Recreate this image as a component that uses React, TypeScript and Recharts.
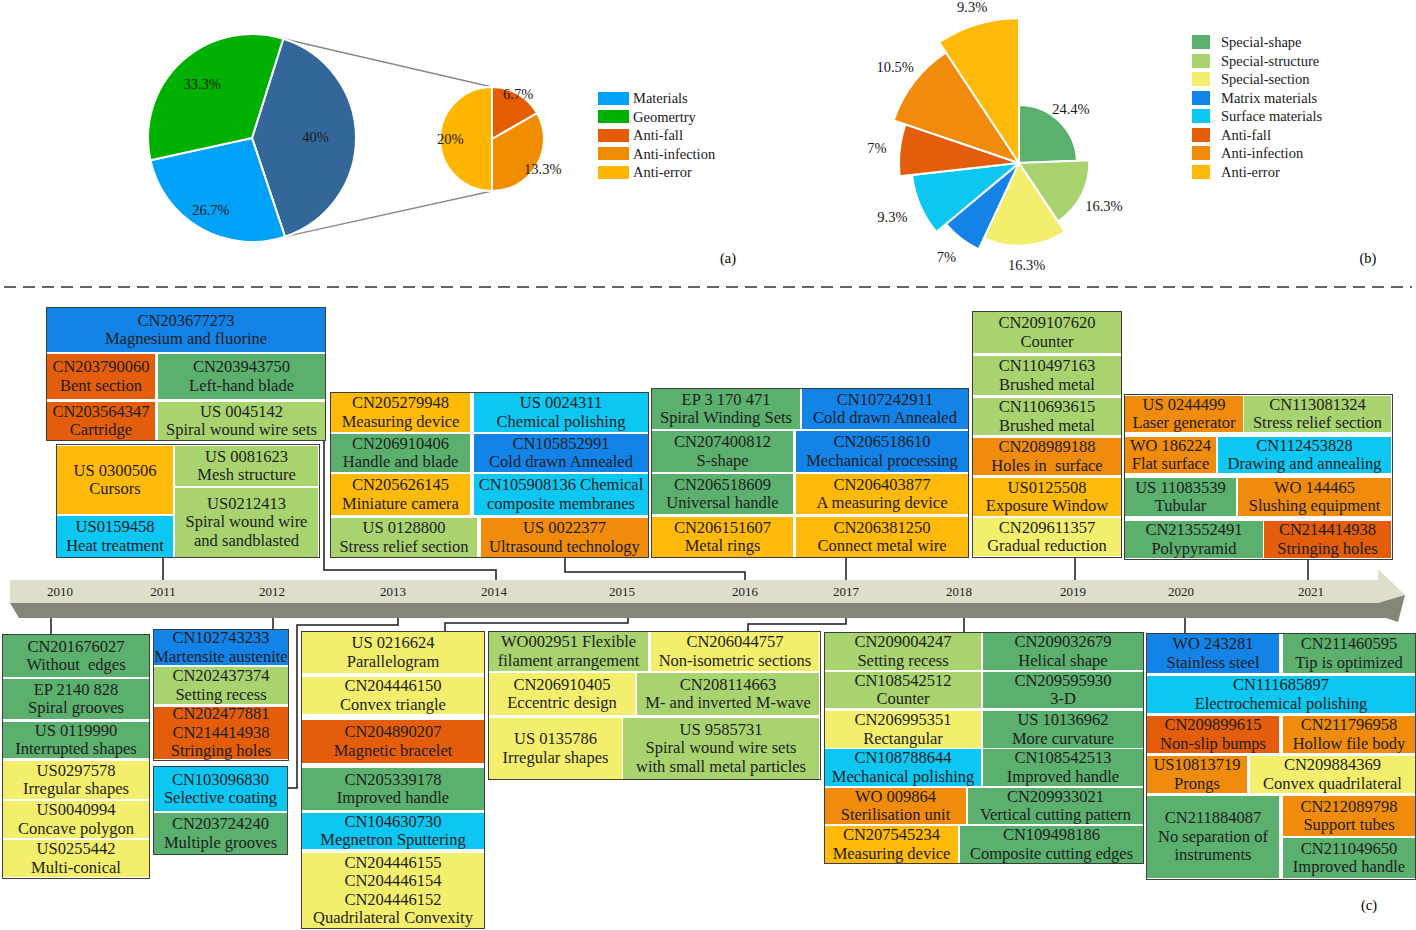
import React from "react";
import { PieChart, Pie, Cell } from "recharts";

const FONT = '"Liberation Serif", "Times New Roman", serif';
const RAD = Math.PI / 180;

// (a) patents by technology group, the 40% group split out on the right
const MAIN_NAMES = ["Anti", "Materials", "Geometry"];
const MAIN_VALUES = [40, 26.7, 33.3];
const SUB_NAMES = ["Anti-fall", "Anti-infection", "Anti-error"];
const SUB_VALUES = [6.7, 13.3, 20];
const LEGEND_A = ["Materials", "Geomertry", "Anti-fall", "Anti-infection", "Anti-error"];

// (b) patents by sub-category
const ROSE_NAMES = [
  "Special-shape",
  "Special-structure",
  "Special-section",
  "Matrix materials",
  "Surface materials",
  "Anti-fall",
  "Anti-infection",
  "Anti-error",
];
const ROSE_VALUES = [24.4, 16.3, 16.3, 7, 9.3, 7, 10.5, 9.3];

// (c) timeline
const YEARS = [2010, 2011, 2012, 2013, 2014, 2015, 2016, 2017, 2018, 2019, 2020, 2021];

type Entry = { t: string[]; c: string };
const e = (c: string, ...t: string[]): Entry => ({ t, c });

const P2010 = [
  e("shape", "CN201676027", "Without  edges"),
  e("shape", "EP 2140 828", "Spiral grooves"),
  e("shape", "US 0119990", "Interrupted shapes"),
  e("section", "US0297578", "Irregular shapes"),
  e("section", "US0040994", "Concave polygon"),
  e("section", "US0255442", "Multi-conical"),
];
const P2011 = [
  e("error", "US 0300506", "Cursors"),
  e("structure", "US 0081623", "Mesh structure"),
  e("structure", "US0212413", "Spiral wound wire", "and sandblasted"),
  e("surface", "US0159458", "Heat treatment"),
];
const P2012 = [
  e("matrix", "CN102743233", "Martensite austenite"),
  e("structure", "CN202437374", "Setting recess"),
  e("fall", "CN202477881", "CN214414938", "Stringing holes"),
];
const P2013 = [
  e("surface", "CN103096830", "Selective coating"),
  e("shape", "CN203724240", "Multiple grooves"),
];
const P2014 = [
  e("matrix", "CN203677273", "Magnesium and fluorine"),
  e("fall", "CN203790060", "Bent section"),
  e("shape", "CN203943750", "Left-hand blade"),
  e("fall", "CN203564347", "Cartridge"),
  e("structure", "US 0045142", "Spiral wound wire sets"),
];
const P2015 = [
  e("section", "US 0216624", "Parallelogram"),
  e("section", "CN204446150", "Convex triangle"),
  e("fall", "CN204890207", "Magnetic bracelet"),
  e("shape", "CN205339178", "Improved handle"),
  e("surface", "CN104630730", "Megnetron Sputtering"),
  e("section", "CN204446155", "CN204446154", "CN204446152", "Quadrilateral Convexity"),
];
const P2016 = [
  e("error", "CN205279948", "Measuring device"),
  e("surface", "US 0024311", "Chemical polishing"),
  e("shape", "CN206910406", "Handle and blade"),
  e("matrix", "CN105852991", "Cold drawn Annealed"),
  e("error", "CN205626145", "Miniature camera"),
  e("surface", "CN105908136 Chemical", "composite membranes"),
  e("structure", "US 0128800", "Stress relief section"),
  e("infection", "US 0022377", "Ultrasound technology"),
];
const P2017A = [
  e("shape", "EP 3 170 471", "Spiral Winding Sets"),
  e("matrix", "CN107242911", "Cold drawn Annealed"),
  e("shape", "CN207400812", "S-shape"),
  e("matrix", "CN206518610", "Mechanical processing"),
  e("shape", "CN206518609", "Universal handle"),
  e("error", "CN206403877", "A measuring device"),
  e("error", "CN206151607", "Metal rings"),
  e("error", "CN206381250", "Connect metal wire"),
];
const P2017B = [
  e("structure", "WO002951 Flexible", "filament arrangement"),
  e("section", "CN206044757", "Non-isometric sections"),
  e("section", "CN206910405", "Eccentric design"),
  e("structure", "CN208114663", "M- and inverted M-wave"),
  e("section", "US 0135786", "Irregular shapes"),
  e("structure", "US 9585731", "Spiral wound wire sets", "with small metal particles"),
];
const P2018 = [
  e("structure", "CN209004247", "Setting recess"),
  e("shape", "CN209032679", "Helical shape"),
  e("structure", "CN108542512", "Counter"),
  e("shape", "CN209595930", "3-D"),
  e("section", "CN206995351", "Rectangular"),
  e("shape", "US 10136962", "More curvature"),
  e("surface", "CN108788644", "Mechanical polishing"),
  e("shape", "CN108542513", "Improved handle"),
  e("infection", "WO 009864", "Sterilisation unit"),
  e("shape", "CN209933021", "Vertical cutting pattern"),
  e("error", "CN207545234", "Measuring device"),
  e("shape", "CN109498186", "Composite cutting edges"),
];
const P2019 = [
  e("structure", "CN209107620", "Counter"),
  e("structure", "CN110497163", "Brushed metal"),
  e("structure", "CN110693615", "Brushed metal"),
  e("infection", "CN208989188", "Holes in  surface"),
  e("error", "US0125508", "Exposure Window"),
  e("section", "CN209611357", "Gradual reduction"),
];
const P2020 = [
  e("matrix", "WO 243281", "Stainless steel"),
  e("shape", "CN211460595", "Tip is optimized"),
  e("surface", "CN111685897", "Electrochemical polishing"),
  e("fall", "CN209899615", "Non-slip bumps"),
  e("infection", "CN211796958", "Hollow file body"),
  e("infection", "US10813719", "Prongs"),
  e("section", "CN209884369", "Convex quadrilateral"),
  e("shape", "CN211884087", "No separation of", "instruments"),
  e("infection", "CN212089798", "Support tubes"),
  e("shape", "CN211049650", "Improved handle"),
];
const P2021 = [
  e("infection", "US 0244499", "Laser generator"),
  e("structure", "CN113081324", "Stress relief section"),
  e("infection", "WO 186224", "Flat surface"),
  e("surface", "CN112453828", "Drawing and annealing"),
  e("shape", "US 11083539", "Tubular"),
  e("infection", "WO 144465", "Slushing equipment"),
  e("shape", "CN213552491", "Polypyramid"),
  e("fall", "CN214414938", "Stringing holes"),
];

// ---- styles / layout ----
const CAT: Record<string, string> = {
  shape: "#5BB06E",
  structure: "#A9D36F",
  section: "#F3EE6C",
  matrix: "#1383E8",
  surface: "#0CC7F2",
  fall: "#E35D0A",
  infection: "#F08B0C",
  error: "#FEB909",
};
const MAIN_COLORS = ["#336699", "#00A2F8", "#00B000"];
const SUB_COLORS = ["#E65C00", "#F08C00", "#FFB600"];
const LEGEND_A_COLORS = ["#00A2F8", "#00B000", "#E65C00", "#F08C00", "#FFB600"];
const ROSE_COLORS = [
  CAT.shape, CAT.structure, CAT.section, CAT.matrix,
  CAT.surface, CAT.fall, CAT.infection, CAT.error,
];
const MAIN_LABEL_R = [0.61, 0.8, 0.71];
const SUB_LABEL_R = [1.0, 1.13, 0.8];
const ROSE_R0 = 58;
const ROSE_STEP = 12.4;
const ROSE_LABEL_OFF = [17, 25, 19, 24, 30, 23, 24, 18];
const BOX_FONT = 16.5;

const YEAR_X = [60, 163, 272, 393, 494, 622, 745, 846, 959, 1073, 1181, 1311];

type Rect = [number, number, number, number];
const BOXES: { items: Entry[]; outer: Rect; cells: Rect[] }[] = [
  {
    items: P2014,
    outer: [46, 307, 280, 134],
    cells: [[47, 308, 278, 44], [47, 354, 108, 45], [158, 354, 167, 45], [47, 402, 108, 38], [158, 402, 167, 38]],
  },
  {
    items: P2011,
    outer: [56, 444, 264, 114],
    cells: [[57, 446, 116, 68], [175, 446, 143, 40], [175, 488, 143, 69], [57, 516, 116, 41]],
  },
  {
    items: P2016,
    outer: [330, 392, 319, 166],
    cells: [
      [331, 393, 139, 39], [474, 393, 174, 39], [331, 434, 139, 38], [474, 434, 174, 38],
      [331, 474, 139, 41], [474, 474, 174, 41], [331, 518, 146, 39], [481, 518, 167, 39],
    ],
  },
  {
    items: P2017A,
    outer: [651, 388, 318, 170],
    cells: [
      [652, 389, 148, 40], [802, 389, 166, 40], [652, 431, 141, 41], [796, 431, 172, 41],
      [652, 474, 141, 40], [796, 474, 172, 40], [652, 517, 141, 40], [796, 517, 172, 40],
    ],
  },
  {
    items: P2019,
    outer: [972, 311, 150, 247],
    cells: [
      [973, 312, 148, 41], [973, 356, 148, 39], [973, 398, 148, 37],
      [973, 438, 148, 37], [973, 478, 148, 38], [973, 518, 148, 38],
    ],
  },
  {
    items: P2021,
    outer: [1124, 394, 269, 166],
    cells: [
      [1125, 396, 118, 36], [1244, 396, 147, 36], [1125, 437, 91, 36], [1218, 437, 173, 36],
      [1125, 478, 111, 38], [1238, 478, 153, 38], [1125, 521, 138, 37], [1264, 521, 127, 37],
    ],
  },
  {
    items: P2010,
    outer: [2, 634, 148, 245],
    cells: [
      [3, 635, 146, 42], [3, 679, 146, 40], [3, 722, 146, 36],
      [3, 761, 146, 38], [3, 801, 146, 37], [3, 840, 146, 37],
    ],
  },
  {
    items: P2012,
    outer: [153, 629, 136, 132],
    cells: [[154, 630, 134, 35], [154, 667, 134, 37], [154, 707, 134, 52]],
  },
  {
    items: P2013,
    outer: [153, 766, 135, 89],
    cells: [[154, 767, 133, 44], [154, 813, 133, 41]],
  },
  {
    items: P2015,
    outer: [301, 631, 184, 298],
    cells: [
      [302, 632, 182, 41], [302, 677, 182, 37], [302, 720, 182, 43],
      [302, 768, 182, 42], [302, 813, 182, 36], [302, 853, 182, 75],
    ],
  },
  {
    items: P2017B,
    outer: [488, 631, 333, 149],
    cells: [
      [489, 632, 159, 39], [651, 632, 168, 39], [489, 673, 146, 42],
      [637, 673, 182, 42], [489, 718, 133, 61], [623, 718, 196, 61],
    ],
  },
  {
    items: P2018,
    outer: [824, 632, 320, 232],
    cells: [
      [825, 633, 156, 37], [983, 633, 160, 37], [825, 672, 156, 36], [983, 672, 160, 36],
      [825, 711, 156, 37], [983, 711, 160, 37], [825, 749, 156, 37], [983, 749, 160, 37],
      [825, 788, 141, 36], [968, 788, 175, 36], [825, 826, 133, 37], [960, 826, 183, 37],
    ],
  },
  {
    items: P2020,
    outer: [1146, 633, 270, 247],
    cells: [
      [1147, 634, 132, 39], [1283, 634, 132, 39], [1147, 676, 268, 37],
      [1147, 716, 132, 37], [1283, 716, 132, 37], [1147, 756, 100, 37], [1250, 756, 165, 37],
      [1147, 796, 132, 82], [1283, 796, 132, 40], [1283, 838, 132, 40],
    ],
  },
];

const CONNECTORS: number[][][] = [
  [[163, 558], [163, 580]],
  [[324, 441], [324, 570], [496, 570], [496, 580]],
  [[565, 558], [565, 572], [745, 572], [745, 580]],
  [[846, 558], [846, 580]],
  [[1075, 557], [1075, 580]],
  [[1308, 560], [1308, 580]],
  [[51, 618], [51, 634]],
  [[273, 618], [273, 629]],
  [[398, 618], [398, 625], [297, 625], [297, 788], [288, 788]],
  [[628, 618], [628, 623], [445, 623], [445, 631]],
  [[846, 618], [846, 624], [748, 624], [748, 631]],
  [[964, 618], [964, 632]],
  [[1185, 618], [1185, 633]],
];

const mainData = MAIN_NAMES.map((name, i) => ({ name, value: MAIN_VALUES[i] }));
const subData = SUB_NAMES.map((name, i) => ({ name, value: SUB_VALUES[i] }));
const roseData = ROSE_NAMES.map((name, i) => ({ name, value: ROSE_VALUES[i] }));

const MAIN_CX = 252, MAIN_CY = 138, MAIN_R = 104, MAIN_START = 72.5;
const SUB_CX = 492, SUB_CY = 139, SUB_R = 52;

const labelText = (x: number, y: number, v: number) => (
  <text x={x} y={y} textAnchor="middle" dominantBaseline="central" fontSize={14.5} fill="#1a1a1a" fontFamily={FONT}>
    {v}%
  </text>
);

const polarLabel = (factors: number[]) => (p: any) => {
  const r = p.outerRadius * factors[p.index];
  return labelText(p.cx + r * Math.cos(-p.midAngle * RAD), p.cy + r * Math.sin(-p.midAngle * RAD), p.value);
};

function Legend({ names, colors, x, y, step, bw, bh, tx }: any) {
  return (
    <>
      {names.map((n: string, i: number) => (
        <React.Fragment key={n}>
          <div style={{ position: "absolute", left: x, top: y + i * step - bh / 2, width: bw, height: bh, background: colors[i] }} />
          <div style={{ position: "absolute", left: tx, top: y + i * step - 10, height: 20, lineHeight: "20px", fontSize: 14.5, color: "#1a1a1a", whiteSpace: "nowrap" }}>
            {n}
          </div>
        </React.Fragment>
      ))}
    </>
  );
}

function PatentBox({ items, outer, cells }: { items: Entry[]; outer: Rect; cells: Rect[] }) {
  return (
    <>
      <div style={{ position: "absolute", left: outer[0], top: outer[1], width: outer[2], height: outer[3], background: "#fff" }} />
      {cells.map((r, i) => (
        <div
          key={i}
          style={{
            position: "absolute", left: r[0], top: r[1], width: r[2], height: r[3],
            background: CAT[items[i].c], display: "flex", flexDirection: "column",
            justifyContent: "center", alignItems: "center", fontSize: BOX_FONT, lineHeight: "18.5px",
            color: "#1e1e1e", whiteSpace: "pre", textAlign: "center", overflow: "visible",
          }}
        >
          {items[i].t.map((s, k) => <div key={k}>{s}</div>)}
        </div>
      ))}
      <div style={{ position: "absolute", left: outer[0], top: outer[1], width: outer[2], height: outer[3], border: "1.5px solid #3d3d3d", boxSizing: "border-box" }} />
    </>
  );
}

export default function App() {
  const mainTotal = MAIN_VALUES.reduce((a, b) => a + b, 0);
  const a1 = MAIN_START * RAD;
  const a2 = (MAIN_START - (360 * MAIN_VALUES[0]) / mainTotal) * RAD;
  const p1 = [MAIN_CX + MAIN_R * Math.cos(a1), MAIN_CY - MAIN_R * Math.sin(a1)];
  const p2 = [MAIN_CX + MAIN_R * Math.cos(a2), MAIN_CY - MAIN_R * Math.sin(a2)];

  return (
    <div style={{ position: "absolute", left: 0, top: 0, width: 1416, height: 930, background: "#fff", fontFamily: FONT, overflow: "hidden" }}>
      <svg width={1416} height={930} style={{ position: "absolute", left: 0, top: 0 }}>
        <line x1={p1[0]} y1={p1[1]} x2={SUB_CX} y2={SUB_CY - SUB_R} stroke="#8a8a8a" strokeWidth={1.5} />
        <line x1={p2[0]} y1={p2[1]} x2={SUB_CX} y2={SUB_CY + SUB_R} stroke="#8a8a8a" strokeWidth={1.5} />
        <line x1={4} y1={287} x2={1412} y2={287} stroke="#333" strokeWidth={1.5} strokeDasharray="12 7" />
        <polygon points="10,580 1378,580 1378,569 1405,595 1378,603 10,603" fill="#DEDECB" />
        <polygon points="10,603 1378,603 1405,595 1398,622 1386,618 19,618" fill="#868678" />
        {YEARS.map((y, i) => (
          <text key={y} x={YEAR_X[i]} y={591} textAnchor="middle" dominantBaseline="central" fontSize={13} fill="#222" fontFamily={FONT}>
            {y}
          </text>
        ))}
        {CONNECTORS.map((pts, i) => (
          <polyline key={i} points={pts.map((p) => p.join(",")).join(" ")} fill="none" stroke="#1a1a1a" strokeWidth={1.5} />
        ))}
        <text x={728} y={258} textAnchor="middle" dominantBaseline="central" fontSize={14.5} fontFamily={FONT}>(a)</text>
        <text x={1368} y={258} textAnchor="middle" dominantBaseline="central" fontSize={14.5} fontFamily={FONT}>(b)</text>
        <text x={1369} y={905} textAnchor="middle" dominantBaseline="central" fontSize={14.5} fontFamily={FONT}>(c)</text>
      </svg>

      <div style={{ position: "absolute", left: 0, top: 0 }}>
        <PieChart width={600} height={280} margin={{ top: 0, right: 0, bottom: 0, left: 0 }} style={{ overflow: "visible" }}>
          <Pie
            data={mainData}
            dataKey="value"
            cx={MAIN_CX}
            cy={MAIN_CY}
            outerRadius={MAIN_R}
            startAngle={MAIN_START}
            endAngle={MAIN_START - 360}
            stroke="#fff"
            strokeWidth={2}
            labelLine={false}
            label={polarLabel(MAIN_LABEL_R)}
            isAnimationActive={false}
          >
            {mainData.map((d, i) => (
              <Cell key={d.name} fill={MAIN_COLORS[i]} />
            ))}
          </Pie>
          <Pie
            data={subData}
            dataKey="value"
            cx={SUB_CX}
            cy={SUB_CY}
            outerRadius={SUB_R}
            startAngle={90}
            endAngle={-270}
            stroke="#fff"
            strokeWidth={2}
            labelLine={false}
            label={polarLabel(SUB_LABEL_R)}
            isAnimationActive={false}
          >
            {subData.map((d, i) => (
              <Cell key={d.name} fill={SUB_COLORS[i]} />
            ))}
          </Pie>
        </PieChart>
      </div>

      <div style={{ position: "absolute", left: 840, top: 0 }}>
        <PieChart width={576} height={280} margin={{ top: 0, right: 0, bottom: 0, left: 0 }} style={{ overflow: "visible" }}>
          {roseData.map((_, k) => {
            const r = ROSE_R0 + ROSE_STEP * k;
            const lr = r + ROSE_LABEL_OFF[k];
            return (
              <Pie
                key={k}
                data={roseData}
                dataKey="value"
                cx={179}
                cy={163}
                outerRadius={r}
                startAngle={90}
                endAngle={-270}
                labelLine={false}
                label={(p: any) =>
                  p.index === k
                    ? labelText(p.cx + lr * Math.cos(-p.midAngle * RAD), p.cy + lr * Math.sin(-p.midAngle * RAD), p.value)
                    : null
                }
                isAnimationActive={false}
              >
                {roseData.map((d, j) => (
                  <Cell
                    key={d.name}
                    fill={j === k ? ROSE_COLORS[j] : "transparent"}
                    stroke={j === k ? "#fff" : "none"}
                    strokeWidth={2}
                  />
                ))}
              </Pie>
            );
          })}
        </PieChart>
      </div>

      <Legend names={LEGEND_A} colors={LEGEND_A_COLORS} x={598} y={98} step={18.5} bw={31} bh={13} tx={633} />
      <Legend names={ROSE_NAMES} colors={ROSE_COLORS} x={1192} y={42} step={18.57} bw={18} bh={14} tx={1221} />

      {BOXES.map((b, i) => (
        <PatentBox key={i} items={b.items} outer={b.outer} cells={b.cells} />
      ))}
    </div>
  );
}
